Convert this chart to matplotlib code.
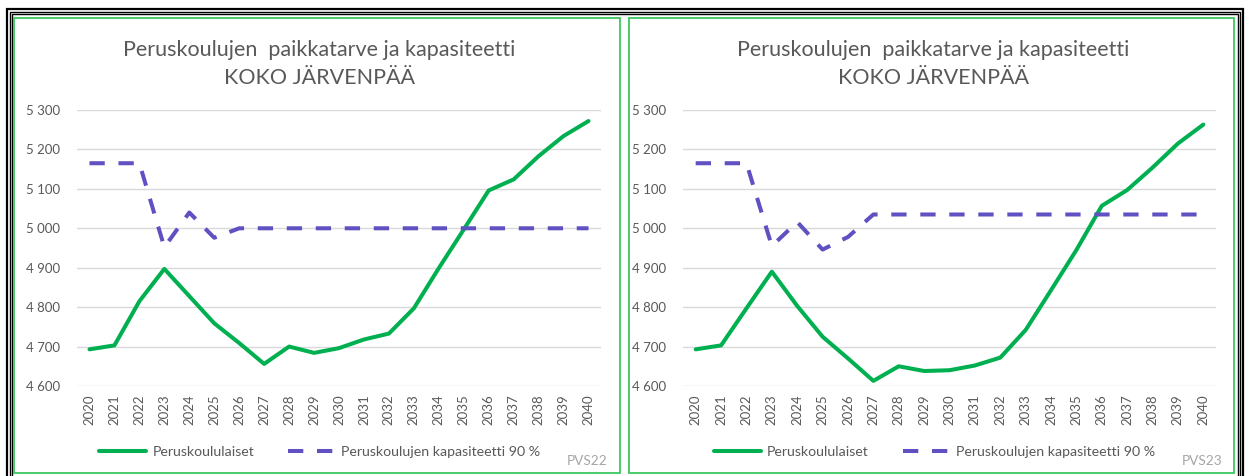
import matplotlib
matplotlib.use("Agg")
import matplotlib.pyplot as plt
from matplotlib.patches import Rectangle
from matplotlib.ticker import FuncFormatter, FixedLocator

plt.rcParams['font.family'] = ['Lato', 'DejaVu Sans']

# ---- data ----
years = [str(y) for y in range(2020, 2041)]
pvs22_oppilaat = [4693, 4703, 4815, 4897, 4828, 4759, 4709, 4656, 4700, 4684, 4696,
                  4718, 4733, 4797, 4899, 4997, 5096, 5124, 5183, 5234, 5272]
pvs22_kapasiteetti = [5165, 5165, 5165, 4952, 5040, 4976, 5000, 5000, 5000, 5000, 5000,
                      5000, 5000, 5000, 5000, 5000, 5000, 5000, 5000, 5000, 5000]
pvs23_oppilaat = [4693, 4703, 4797, 4890, 4803, 4725, 4670, 4613, 4650, 4638, 4640,
                  4652, 4672, 4742, 4843, 4945, 5057, 5097, 5154, 5215, 5263]
pvs23_kapasiteetti = [5165, 5165, 5165, 4955, 5016, 4946, 4978, 5035, 5035, 5035, 5035,
                      5035, 5035, 5035, 5035, 5035, 5035, 5035, 5035, 5035, 5035]
y_ticks = [4600, 4700, 4800, 4900, 5000, 5100, 5200, 5300]
title_lines = ["Peruskoulujen  paikkatarve ja kapasiteetti", "KOKO JÄRVENPÄÄ"]
series_names = ["Peruskoululaiset", "Peruskoulujen kapasiteetti 90 %"]
version_labels = ["PVS22", "PVS23"]

W, H = 1248, 476
fig = plt.figure(figsize=(W / 100, H / 100), dpi=100)
fig.patch.set_facecolor("white")

def fx(px):
    return px / W

def fy(py):
    return 1 - py / H

GREEN = "#00B050"
PURPLE = "#5F51C2"
TEXT = "#595959"
GRID = "#D9D9D9"
BORDER_GREEN = "#3CC75F"

# outer black multi-line border
for off, lw in [(0, 1.6), (2.6, 1.0), (5.0, 1.0)]:
    fig.add_artist(Rectangle((fx(7 + off), fy(490)), fx(1243 - 7 - 2 * off), (490 - (9 + off)) / H,
                             transform=fig.transFigure, fill=False, edgecolor="black", lw=lw))

panels = [
    dict(frame=(14, 620), ax=(77, 601), oppilaat=pvs22_oppilaat, kap=pvs22_kapasiteetti,
         version=version_labels[0], vx=607),
    dict(frame=(629, 1234), ax=(683, 1216), oppilaat=pvs23_oppilaat, kap=pvs23_kapasiteetti,
         version=version_labels[1], vx=1222),
]

y_top, y_bot = 110, 386
fmt = FuncFormatter(lambda v, p: f"{int(v):,}".replace(",", " "))

for p in panels:
    x0, x1 = p["frame"]
    fig.add_artist(Rectangle((fx(x0), fy(473)), fx(x1 - x0), (473 - 18) / H,
                             transform=fig.transFigure, fill=False, edgecolor=BORDER_GREEN, lw=1.3))
    ax0, ax1 = p["ax"]
    ax = fig.add_axes([fx(ax0), fy(y_bot), fx(ax1 - ax0), (y_bot - y_top) / H])
    xs = list(range(len(years)))
    ax.plot(xs, p["oppilaat"], color=GREEN, lw=2.9, solid_joinstyle="round",
            solid_capstyle="round", label=series_names[0], zorder=3)
    ax.plot(xs, p["kap"], color=PURPLE, lw=2.9, dashes=(3.8, 3.4),
            dash_capstyle="butt", label=series_names[1], zorder=3)
    ax.set_xlim(-0.5, len(years) - 0.5)
    ax.set_ylim(y_ticks[0], y_ticks[-1])
    ax.yaxis.set_major_locator(FixedLocator(y_ticks))
    ax.yaxis.set_major_formatter(fmt)
    ax.set_xticks(xs)
    ax.set_xticklabels(years, rotation=90)
    ax.grid(axis="y", color=GRID, lw=1.0)
    ax.set_axisbelow(True)
    for s in ax.spines.values():
        s.set_visible(False)
    ax.tick_params(axis="both", length=0, colors=TEXT, labelsize=9.5)
    ax.tick_params(axis="y", pad=12)
    ax.tick_params(axis="x", pad=6)
    cx = (x0 + x1) / 2 + 2
    fig.text(fx(cx), fy(50), title_lines[0], ha="center", va="center", fontsize=15.5, color=TEXT)
    fig.text(fx(cx), fy(78), title_lines[1], ha="center", va="center", fontsize=15.5, color=TEXT)
    ax.legend(loc="center", bbox_to_anchor=(fx(cx + 1), fy(452)), bbox_transform=fig.transFigure,
              ncol=2, frameon=False, fontsize=10.2, handlelength=3.3, handletextpad=0.45,
              columnspacing=2.4, labelcolor=TEXT)
    fig.text(fx(p["vx"]), fy(461), p["version"], ha="right", va="center", fontsize=9.8,
             color="#A6A6A6")

fig.savefig("out.png", dpi=100)
